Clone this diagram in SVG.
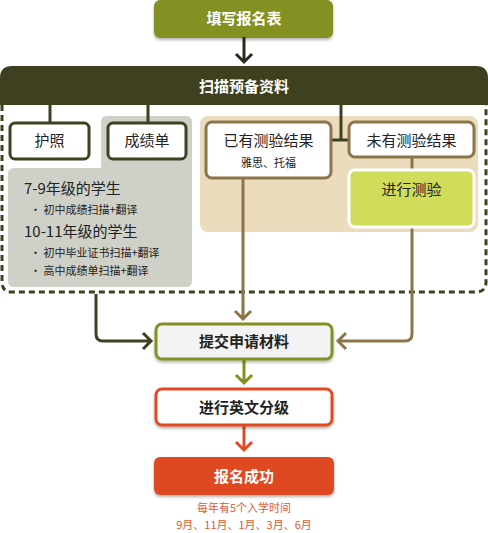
<svg xmlns="http://www.w3.org/2000/svg" width="488" height="533" viewBox="0 0 488 533">
<defs>
<style>
text{font-family:"Noto Sans CJK SC","Noto Sans",sans-serif;text-anchor:middle}
.b{font-weight:bold}
.w{fill:#fff}
.t{font-size:15px;fill:#222}
.s{font-size:11px;fill:#222}
.ln{fill:none;stroke-width:3}
.dk{stroke:#3e4020}
.br{stroke:#8c754a}
</style>
<filter id="sh" x="-10%" y="-20%" width="120%" height="150%">
<feDropShadow dx="0" dy="2" stdDeviation="1.5" flood-color="#000" flood-opacity="0.3"/>
</filter>
</defs>

<g id="n-fill">
<rect x="154" y="0" width="179" height="38" rx="6" fill="#849122" filter="url(#sh)"/>
<text x="244" y="24" class="b w" font-size="15">填写报名表</text>
</g>

<g id="n-scan">
<path d="M0 105 V78 Q0 66 12 66 H476 Q488 66 488 78 V105 Z" fill="#3e4020"/>
<text x="244" y="92" class="b w" font-size="15">扫描预备资料</text>
<path d="M2 105 V282 Q2 292 12 292 H476 Q486 292 486 282 V105" fill="none" stroke="#3e4020" stroke-width="3" stroke-dasharray="6 4"/>
</g>

<g id="panels">
<path d="M107 116 H186 Q192 116 192 122 V281 Q192 287 186 287 H14 Q8 287 8 281 V174 Q8 168 14 168 H101 V122 Q101 116 107 116 Z" fill="#cfd0c8"/>
<rect x="200" y="116" width="278" height="116" rx="8" fill="#ecdcbe"/>
</g>

<g id="connectors">
<path class="ln dk" d="M50 105 V122 M148 105 V122 M341 105 V140 M331 140 H349"/>
<path class="ln br" d="M412 157 V169"/>
<path class="ln br" d="M243 178 V319 M235 311 L243 319 L251 311"/>
<path class="ln br" d="M412 227 V334 Q412 341 405 341 H338 M346 333 L338 341 L346 349"/>
<path class="ln dk" d="M96 294 V334 Q96 341 103 341 H151 M143 333 L151 341 L143 349"/>
<path class="ln" stroke="#849122" d="M244 360 V383 M236 375 L244 383 L252 375"/>
<path class="ln" stroke="#e04a24" d="M244 426 V450 M236 442 L244 450 L252 442"/>
<path class="ln" stroke="#2b2b1e" d="M244 37 V62 M236 54 L244 62 L252 54"/>
</g>

<g id="n-passport">
<rect x="10" y="123" width="79" height="36" rx="5" fill="#fff" stroke="#3e4020" stroke-width="3"/>
<text x="49.5" y="146" class="t">护照</text>
</g>

<g id="n-transcript">
<rect x="108" y="123" width="78" height="36" rx="5" fill="#fff" stroke="#3e4020" stroke-width="3"/>
<text x="147" y="146" class="t">成绩单</text>
</g>

<g id="transcript-notes" style="text-anchor:start">
<text x="24" y="194" class="t" style="text-anchor:start">7-9年级的学生</text>
<text x="30" y="214" class="s" style="text-anchor:start">•  初中成绩扫描+翻译</text>
<text x="24" y="237" class="t" style="text-anchor:start">10-11年级的学生</text>
<text x="30" y="257" class="s" style="text-anchor:start">•  初中毕业证书扫描+翻译</text>
<text x="30" y="275" class="s" style="text-anchor:start">•  高中成绩单扫描+翻译</text>
</g>

<g id="n-has">
<rect x="206" y="122" width="125" height="56" rx="6" fill="#fff" stroke="#8c754a" stroke-width="3"/>
<text x="268.5" y="146" class="t">已有测验结果</text>
<text x="268.5" y="167" class="s">雅思、托福</text>
</g>

<g id="n-none">
<rect x="349" y="122" width="125" height="35" rx="6" fill="#fff" stroke="#8c754a" stroke-width="3"/>
<text x="411.5" y="146" class="t">未有测验结果</text>
</g>

<g id="n-test">
<rect x="349" y="170" width="125" height="57" rx="6" fill="#cfdd5a" stroke="#fff" stroke-width="3"/>
<text x="411.5" y="195" class="t">进行测验</text>
</g>

<g id="n-submit">
<rect x="156" y="324" width="176" height="35" rx="6" fill="#f3f3f3" stroke="#849122" stroke-width="3" filter="url(#sh)"/>
<text x="244" y="347" class="t b">提交申请材料</text>
</g>

<g id="n-level">
<rect x="156" y="389" width="176" height="36" rx="6" fill="#fff" stroke="#e04a24" stroke-width="3" filter="url(#sh)"/>
<text x="244" y="413" class="t b">进行英文分级</text>
</g>

<g id="n-success">
<rect x="154" y="457" width="180" height="38" rx="6" fill="#df4a23" filter="url(#sh)"/>
<text x="244" y="482" class="b w" font-size="15">报名成功</text>
</g>

<g id="note">
<text x="244" y="512" font-size="11" fill="#e05a36">每年有5个入学时间</text>
<text x="244" y="529" font-size="11" fill="#e05a36">9月、11月、1月、3月、6月</text>
</g>
</svg>
